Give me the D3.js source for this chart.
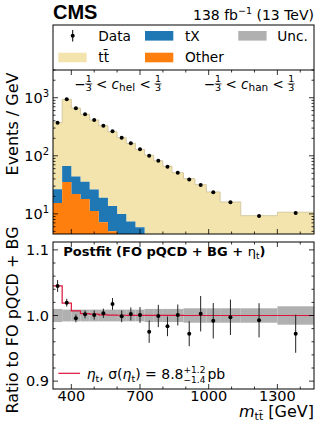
<!DOCTYPE html>
<html>
<head>
<meta charset="utf-8">
<script src="https://cdn.jsdelivr.net/npm/d3@7"></script>
<style>
  body { margin: 0; background: #fff; }
  text { font-family: "DejaVu Sans", sans-serif; fill: #000; white-space: pre; }
</style>
</head>
<body>
<svg id="chart" width="319" height="430"></svg>
<script>
// bin edges in m_tt [GeV]
const edges = [320, 360, 400, 440, 480, 520, 560, 600, 640, 680, 720, 760, 800, 840, 890, 940, 990, 1050, 1140, 1300, 1460];
// events / GeV
const dataVals = [371, 938, 657, 517, 413, 330, 264, 205, 164, 129, 100, 82, 65, 51, 39, 31.4, 23.5, 15.8, 9.2, 10.3];
const ttbar = [344.5, 870.8, 620, 481.8, 387.2, 310.1, 245.8, 195.3, 156.2, 123, 98.1, 78.5, 63.2, 48.8, 38.8, 30.4, 22.8, 15.3, 8.9, 10.4];
const tX = [11.1, 31.4, 22, 17.8, 15.1, 11.7, 8.6, 6.5, 4.9, 4.0, 3.0, 2.4, 1.9, 1.5, 1.2, 1.0, 0.75, 0.5, 0.3, 0.2];
const other = [15.4, 35.3, 22, 18, 11.2, 7.2, 5.0, 3.4, 2.5, 1.9, 1.4, 1.1, 0.9, 0.7, 0.55, 0.45, 0.35, 0.25, 0.12, 0.08];
// ratio panel
const ratioData = [1.045, 1.0195, 0.9957, 1.0018, 1.0008, 1.0034, 1.0176, 0.9988, 1.0023, 1.0008, 0.9753, 0.9992, 0.9835, 1.0008, 0.9722, 1.0027, 0.992, 0.9973, 0.9927, 0.9722];
const ratioErr = [0.009, 0.006, 0.006, 0.006, 0.007, 0.007, 0.009, 0.009, 0.010, 0.012, 0.017, 0.017, 0.015, 0.016, 0.019, 0.027, 0.027, 0.027, 0.026, 0.029];
const etaRatio = [1.045, 1.019, 1.007, 1.003, 1.002, 1.001, 1.0005, 1.0004, 1.0003, 1.0002, 1.0002, 1.0001, 1.0001, 1.0001, 1.0, 1.0, 1.0, 1.0, 1.0, 1.0];
const uncBand = [0.010, 0.009, 0.009, 0.009, 0.009, 0.009, 0.009, 0.009, 0.009, 0.009, 0.010, 0.010, 0.010, 0.010, 0.011, 0.011, 0.011, 0.011, 0.011, 0.014];
const xTicks = [400, 700, 1000, 1300];
const yTicksTop = [10, 100, 1000];
const ratioTicks = [0.9, 1.0, 1.1];

const colTT = "#f3e3ac", colTX = "#1f77b4", colOther = "#ff7f0e", colUnc = "#b0b0b0", colEta = "#dc143c";

const svg = d3.select("#chart");
const L = 53, R = 314, LT = 25, T1 = 70, B1 = 234, T2 = 242, B2 = 389;

const x = d3.scaleLinear().domain([320, 1460]).range([L, R]);
const y = d3.scaleLog().domain([4.5, 3000]).range([B1, T1]).clamp(true);
const yr = d3.scaleLinear().domain([0.888, 1.112]).range([B2, T2]);

const n = dataVals.length;
const centers = d3.range(n).map(i => (edges[i] + edges[i + 1]) / 2);

// rich text helper: pieces laid out left to right
function rich(g, x0, y0, pieces, anchor) {
  const grp = g.append("g");
  let cx = 0;
  pieces.forEach(p => {
    if (p.stack) {
      const a = grp.append("text").attr("x", cx).attr("y", p.up).style("font-size", p.size + "px").text(p.stack[0]);
      const b = grp.append("text").attr("x", cx).attr("y", p.down).style("font-size", p.size + "px").text(p.stack[1]);
      const w = Math.max(a.node().getComputedTextLength(), b.node().getComputedTextLength());
      if (p.frac) {
        a.attr("x", cx + (w - a.node().getComputedTextLength()) / 2);
        b.attr("x", cx + (w - b.node().getComputedTextLength()) / 2);
        grp.append("line").attr("x1", cx - 0.5).attr("x2", cx + w + 0.5).attr("y1", p.bar).attr("y2", p.bar)
          .attr("stroke", "#000").attr("stroke-width", 0.7);
      }
      cx += w + (p.pad || 0);
    } else {
      const t = grp.append("text").attr("x", cx).attr("y", p.dy || 0).style("font-size", p.size + "px").text(p.t);
      if (p.italic) t.style("font-style", "italic");
      if (p.bold) t.style("font-weight", "bold");
      cx += t.node().getComputedTextLength();
    }
  });
  let shift = 0;
  if (anchor === "middle") shift = -cx / 2;
  if (anchor === "end") shift = -cx;
  grp.attr("transform", `translate(${x0 + shift},${y0})`);
  return grp;
}

// ---------- top panel ----------
const upper = svg.append("g");
const rows = d3.range(n).map(i => ({ other: other[i], tX: tX[i], ttbar: ttbar[i] }));
const series = d3.stack().keys(["other", "tX", "ttbar"])(rows);
const fills = { other: colOther, tX: colTX, ttbar: colTT };

const area = d3.area().curve(d3.curveStepAfter)
  .x(d => x(d.e))
  .y0(d => y(Math.max(d.lo, 1)))
  .y1(d => y(Math.max(d.hi, 1)));

series.slice().reverse().forEach(s => {
  const pts = d3.range(n + 1).map(i => { const k = Math.min(i, n - 1); return { e: edges[i], lo: s[k][0], hi: s[k][1] }; });
  upper.append("path").attr("d", area(pts)).attr("fill", fills[s.key]);
});
const totPts = d3.range(n + 1).map(i => { const k = Math.min(i, n - 1); return { e: edges[i], v: series[2][k][1] }; });
upper.append("path")
  .attr("d", d3.line().curve(d3.curveStepAfter).x(d => x(d.e)).y(d => y(d.v))(totPts))
  .attr("fill", "none").attr("stroke", "#cbbf97").attr("stroke-width", 0.8);

// data points
upper.selectAll(".derr").data(d3.range(n)).enter().append("line")
  .attr("x1", i => x(centers[i])).attr("x2", i => x(centers[i]))
  .attr("y1", i => y(dataVals[i] * (1 + ratioErr[i] / ratioData[i])))
  .attr("y2", i => y(dataVals[i] * (1 - ratioErr[i] / ratioData[i])))
  .attr("stroke", "#000").attr("stroke-width", 1);
upper.selectAll(".dpt").data(d3.range(n)).enter().append("circle")
  .attr("cx", i => x(centers[i])).attr("cy", i => y(dataVals[i])).attr("r", 2).attr("fill", "#000");

// ---------- ratio panel ----------
const lower = svg.append("g");
lower.selectAll(".unc").data(d3.range(n)).enter().append("rect")
  .attr("x", i => x(edges[i])).attr("width", i => x(edges[i + 1]) - x(edges[i]))
  .attr("y", i => yr(1 + uncBand[i])).attr("height", i => yr(1 - uncBand[i]) - yr(1 + uncBand[i]))
  .attr("fill", colUnc);
const etaPts = d3.range(n + 1).map(i => ({ e: edges[i], v: etaRatio[Math.min(i, n - 1)] }));
lower.append("path")
  .attr("d", d3.line().curve(d3.curveStepAfter).x(d => x(d.e)).y(d => yr(d.v))(etaPts))
  .attr("fill", "none").attr("stroke", colEta).attr("stroke-width", 1.2);
lower.selectAll(".rerr").data(d3.range(n)).enter().append("line")
  .attr("x1", i => x(centers[i])).attr("x2", i => x(centers[i]))
  .attr("y1", i => yr(ratioData[i] + ratioErr[i])).attr("y2", i => yr(ratioData[i] - ratioErr[i]))
  .attr("stroke", "#222").attr("stroke-width", 1);
lower.selectAll(".rpt").data(d3.range(n)).enter().append("circle")
  .attr("cx", i => x(centers[i])).attr("cy", i => yr(ratioData[i])).attr("r", 2).attr("fill", "#000");

// ---------- frames and ticks ----------
const ax = svg.append("g").attr("stroke", "#000").attr("fill", "none");
ax.append("rect").attr("x", L).attr("y", LT).attr("width", R - L).attr("height", B1 - LT).attr("stroke-width", 1);
ax.append("line").attr("x1", L).attr("x2", R).attr("y1", T1).attr("y2", T1).attr("stroke-width", 1);
ax.append("rect").attr("x", L).attr("y", T2).attr("width", R - L).attr("height", B2 - T2).attr("stroke-width", 1);

function xTickMarks(yTop, yBot) {
  d3.range(400, 1460, 100).forEach(v => {
    const len = xTicks.includes(v) ? 5 : 2.5;
    ax.append("line").attr("x1", x(v)).attr("x2", x(v)).attr("y1", yBot).attr("y2", yBot - len).attr("stroke-width", 0.8);
    ax.append("line").attr("x1", x(v)).attr("x2", x(v)).attr("y1", yTop).attr("y2", yTop + len).attr("stroke-width", 0.8);
  });
}
xTickMarks(T1, B1);
xTickMarks(T2, B2);

function yTick(yy, len) {
  ax.append("line").attr("x1", L).attr("x2", L + len).attr("y1", yy).attr("y2", yy).attr("stroke-width", 0.8);
  ax.append("line").attr("x1", R).attr("x2", R - len).attr("y1", yy).attr("y2", yy).attr("stroke-width", 0.8);
}
[1, 10, 100, 1000].forEach(dec => {
  d3.range(1, 10).forEach(m => {
    const v = dec * m;
    if (v < 4.5 || v > 3000) return;
    yTick(y(v), m === 1 ? 5 : 2.5);
  });
});
d3.range(0.9, 1.111, 0.02).forEach(v => {
  const major = ratioTicks.some(t => Math.abs(t - v) < 1e-6);
  yTick(yr(v), major ? 5 : 2.5);
});

// tick labels
xTicks.forEach(v => {
  svg.append("text").attr("x", x(v)).attr("y", 401).attr("text-anchor", "middle")
    .style("font-size", "14.5px").text(v);
});
ratioTicks.forEach(v => {
  svg.append("text").attr("x", 49).attr("y", yr(v) + 5).attr("text-anchor", "end")
    .style("font-size", "14.5px").text(v.toFixed(1));
});
yTicksTop.forEach(v => {
  rich(svg, 49, y(v) + 5, [
    { t: "10", size: 14.5 },
    { t: String(Math.round(Math.log10(v))), size: 10, dy: -6 }
  ], "end");
});

// axis titles
svg.append("text").attr("transform", "translate(18,124) rotate(-90)").attr("text-anchor", "middle")
  .style("font-size", "16px").text("Events / GeV");
svg.append("text").attr("transform", "translate(18,320) rotate(-90)").attr("text-anchor", "middle")
  .style("font-size", "16px").text("Ratio to FO pQCD + BG");
rich(svg, R, 417, [
  { t: "m", size: 16, italic: true },
  { t: "tt\u0304", size: 11, dy: 3 },
  { t: " [GeV]", size: 16 }
], "end");

// header
svg.append("text").attr("x", L).attr("y", 18.5)
  .style("font-family", "'Liberation Sans', Arial, sans-serif").style("font-weight", "bold").style("font-size", "20px").text("CMS");
rich(svg, R, 19.5, [
  { t: "138 fb", size: 14 },
  { t: "\u22121", size: 9.5, dy: -6 },
  { t: " (13 TeV)", size: 14 }
], "end");

// legend (upper)
const lg = svg.append("g");
lg.append("line").attr("x1", 72.7).attr("x2", 72.7).attr("y1", 30).attr("y2", 41.5).attr("stroke", "#000").attr("stroke-width", 1);
lg.append("circle").attr("cx", 72.7).attr("cy", 35.7).attr("r", 2).attr("fill", "#000");
[[98.3, 40.5, "Data"], [185, 40.5, "tX"], [277.3, 40.5, "Unc."], [98.3, 62, "tt\u0304"], [185, 62, "Other"]].forEach(d => {
  lg.append("text").attr("x", d[0]).attr("y", d[1]).style("font-size", "13.7px").text(d[2]);
});
[[145, 31, colTX], [238.3, 31, colUnc], [58.3, 52.7, colTT], [145, 52.7, colOther]].forEach(d => {
  lg.append("rect").attr("x", d[0]).attr("y", d[1]).attr("width", 28.3).attr("height", 9.6).attr("fill", d[2]);
});

// region labels
function regionLabel(cx, sub) {
  rich(svg, cx, 88.5, [
    { t: "\u2212", size: 13.5 },
    { stack: ["1", "3"], size: 9.5, up: -7, down: 2.5, bar: -4.6, frac: true },
    { t: " < ", size: 13.5 },
    { t: "c", size: 13.5, italic: true },
    { t: sub, size: 10.5, dy: 2.5 },
    { t: " < ", size: 13.5 },
    { stack: ["1", "3"], size: 9.5, up: -7, down: 2.5, bar: -4.6, frac: true }
  ], "middle");
}
regionLabel(117.7, "hel");
regionLabel(249, "han");

// ratio panel texts
rich(svg, 63.3, 256, [
  { t: "Postfit (FO pQCD + BG + ", size: 13, bold: true },
  { t: "\u03b7", size: 13 },
  { t: "t", size: 9, dy: 2.5 },
  { t: ")", size: 13, bold: true }
], "start");
svg.append("line").attr("x1", 58.3).attr("x2", 80).attr("y1", 373.3).attr("y2", 373.3)
  .attr("stroke", colEta).attr("stroke-width", 1.2);
rich(svg, 86.7, 378.5, [
  { t: "\u03b7", size: 14, italic: true },
  { t: "t", size: 9.5, dy: 3 },
  { t: ", \u03c3(", size: 14 },
  { t: "\u03b7", size: 14, italic: true },
  { t: "t", size: 9.5, dy: 3 },
  { t: ") = 8.8", size: 14 },
  { stack: ["+1.2", "\u22121.4"], size: 9, up: -6, down: 4, pad: 2 },
  { t: "pb", size: 14 }
], "start");
</script>
</body>
</html>
